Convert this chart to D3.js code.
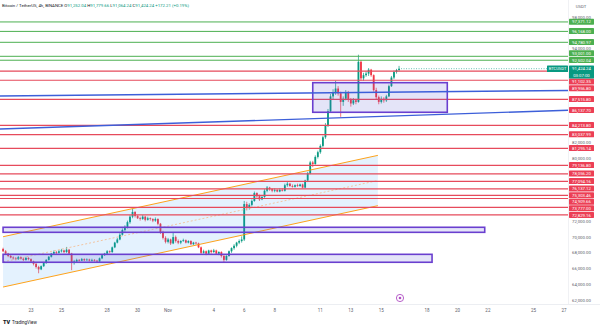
<!DOCTYPE html>
<html><head><meta charset="utf-8">
<script src="https://cdn.jsdelivr.net/npm/d3@7"></script>
<style>body{margin:0;background:#fff}svg{display:block}text{font-family:Roboto,"Noto Sans",sans-serif}</style>
</head><body><svg id="c" width="600" height="328"></svg>
<script>
// ---------- DATA ----------
const startTime = "2024-10-21T04:00";   // first 4h candle
const opens = [
68500,68200,67900,67600,67400,
67300,67200,67450,67250,67100,67350,
67200,66900,66600,66200,65900,66300,
66700,67100,67500,67900,68100,68000,
68200,68300,68100,68400,67900,66700,
66900,67100,67000,67200,67050,67150,
67000,67100,67000,66900,67300,67700,
67900,68200,68100,68700,69300,69700,
70300,70900,71300,71900,72600,73200,
72700,72400,72300,72600,72200,72400,
72300,72100,72300,71700,70600,69900,
69400,69700,69200,70000,69500,69300,
69500,69600,69300,69500,69100,69300,
69200,68700,68000,68200,67900,68300,
68100,68300,67900,68100,67600,67100,
67600,68200,68600,68900,69300,69500,
69700,74200,73700,74100,74600,75600,
75200,74800,75100,75900,76300,76100,
75900,76000,75800,76000,75900,76600,
76800,76500,76400,76600,76500,76700,
76300,77200,78100,79500,79300,80200,
80800,81600,82700,84200,86000,87900,
88400,88900,88300,87200,87600,88400,
87500,87000,87400,87200,92300,90200,
90600,90800,91300,90600,88700,87800,
87200,87600,87400,87900,89200,90300,
91000,91252.04];
const highs = [
68650,68350,68000,67750,67550,
67450,67600,67550,67350,67500,67450,
67300,67000,66700,66350,66400,66800,
67200,67600,68000,68300,68250,68350,
68500,68400,68750,68500,68000,67100,
67250,67200,67350,67300,67300,67250,
67250,67200,67100,67400,67800,68000,
68350,68300,68800,69400,69900,70500,
71100,71500,72100,72800,73600,73300,
72800,72600,72800,72700,72600,72500,
72400,72500,72400,71800,70800,70100,
69900,69800,70600,70200,69700,69600,
69800,69700,69600,69600,69400,69400,
69300,68800,68400,68300,68400,68400,
68500,68400,68200,68200,67700,67700,
68300,68700,69100,69400,69700,70100,
74600,74500,74300,74800,75800,75700,
75400,75300,76100,76500,76400,76200,
76200,76100,76200,76200,76800,77000,
76900,76700,76700,76800,76800,76800,
77300,78300,79700,79700,80400,81000,
81800,82900,84500,86300,88200,88800,
89900,89200,88500,87900,88700,88600,
87700,87700,87600,93200,92500,90900,
91100,91500,91400,90700,89000,88000,
87900,87800,88100,89400,90500,91200,
91400,91779.66];
const lows = [
68100,67800,67450,67300,67150,
67050,67100,67150,66950,67000,67050,
66800,66400,66000,65400,65800,66200,
66600,67000,67400,67800,67850,67900,
68050,67950,68000,67750,65800,66500,
66800,66900,66950,66950,67000,66900,
66900,66900,66750,66850,67200,67600,
67800,67950,68000,68600,69200,69600,
70200,70700,71100,71700,72400,72500,
72300,72100,72200,72000,72100,72100,
71900,71950,71500,70400,69700,69200,
69200,69000,69100,69300,69100,69100,
69400,69200,69200,69000,69000,69050,
68600,67800,67900,67700,67800,67900,
68000,67800,67700,67400,66800,67000,
67500,68000,68400,68700,69100,69300,
69500,73400,73500,73900,74500,75000,
74600,74700,75000,75700,75900,75700,
75700,75700,75700,75800,75800,76400,
76400,76300,76300,76400,76400,76200,
76200,77000,78000,78900,79200,80000,
80600,81400,82500,84000,85800,87500,
88100,88000,85300,86700,87400,87200,
86600,86800,86900,87100,89900,89900,
90400,90500,90400,88500,87500,86900,
87000,87100,87200,87800,89100,90100,
90800,91064.24];
const closes = [
68200,67900,67600,67400,67300,
67200,67450,67250,67100,67350,67200,
66900,66600,66200,65900,66300,66700,
67100,67500,67900,68100,68000,68200,
68300,68100,68400,67900,66700,66900,
67100,67000,67200,67050,67150,67000,
67100,67000,66900,67300,67700,67900,
68200,68100,68700,69300,69700,70300,
70900,71300,71900,72600,73200,72700,
72400,72300,72600,72200,72400,72300,
72100,72300,71700,70600,69900,69400,
69700,69200,70000,69500,69300,69500,
69600,69300,69500,69100,69300,69200,
68700,68000,68200,67900,68300,68100,
68300,67900,68100,67600,67100,67600,
68200,68600,68900,69300,69500,69700,
74200,73700,74100,74600,75600,75200,
74800,75100,75900,76300,76100,75900,
76000,75800,76000,75900,76600,76800,
76500,76400,76600,76500,76700,76300,
77200,78100,79500,79300,80200,80800,
81600,82700,84200,86000,87900,88400,
88900,88300,87200,87600,88400,87500,
87000,87400,87200,92300,90200,90600,
90800,91300,90600,88700,87800,87200,
87600,87400,87900,89200,90300,91000,
91252.04,91424.24];

const greenLevels = [97371.12, 96168.00, 94780.97, 93001.00, 92502.04];
const redLevels = [91102.35, 89956.80, 87515.80, 84213.80, 83037.99, 81295.14, 79136.80,
                   78056.20, 77094.16, 76137.12, 75303.46, 74909.66, 73777.00, 72829.16];
// trend lines (time, price anchors)
const blueLineA = ["2024-10-21T00:00", 87950, "2024-11-27T00:00", 88650];
const blueLineB = ["2024-10-21T00:00", 83750, "2024-11-27T04:00", 86137.70];
// rectangles: [start, end, top price, bottom price]
const boxes = [
  ["2024-11-10T12:00", "2024-11-19T08:00", 89646, 85880],
  ["2024-10-21T04:00", "2024-11-21T19:00", 71250, 70610],
  ["2024-10-21T04:00", "2024-11-18T08:00", 67810, 66800]
];
// parallel channel: start, end, upper prices, lower prices
const channelTimes = ["2024-10-21T04:00", "2024-11-14T18:40"];
const channelUpper = [70050, 80400];
const channelLower = [63650, 74000];

const priceTicks = [62000,64000,66000,68000,70000,72000,74000,76000,78000,80000,82000,84000,86000,88000,90000,92000,94000,96000,98000];
const timeTickDates = ["2024-10-23","2024-10-25","2024-10-28","2024-10-30","2024-11-01","2024-11-04","2024-11-06","2024-11-08","2024-11-11","2024-11-13","2024-11-15","2024-11-18","2024-11-20","2024-11-22","2024-11-25","2024-11-27"];
const timeTickLabels = ["23","25","28","30","Nov","4","6","8","11","13","15","18","20","22","25","27"];
const symbolName = "BTCUSDT";
const countdown = "03:07:00";
const headerTitle = "Bitcoin / TetherUS, 4h, BINANCE";
const headerChange = "+172.21 (+0.19%)";

// ---------- CHART ----------
const W = 600, H = 328, plotR = 568, plotB = 304;
const svg = d3.select("#c");
const pt = d3.utcParse("%Y-%m-%dT%H:%M");
const pd = d3.utcParse("%Y-%m-%d");
const x = d3.scaleUtc().domain([Date.UTC(2024,9,21), Date.UTC(2024,10,27)]).range([0.54, 564.05]);
const y = d3.scaleLinear().domain([62000, 98000]).range([300, 17]);
const fmt = d3.format(",.2f");
const GREEN = "#089981", RED = "#f23645";

svg.append("rect").attr("width",W).attr("height",H).attr("fill","#fff");
svg.append("defs").append("clipPath").attr("id","clip").append("rect")
  .attr("x",0).attr("y",0).attr("width",plotR).attr("height",plotB);
const plot = svg.append("g").attr("clip-path","url(#clip)");

// candles
const t0 = pt(startTime).getTime();
const candles = closes.map((c,i)=>({t:new Date(t0 + i*4*3600e3), o:opens[i], h:highs[i], l:lows[i], c}));
const cg = plot.append("g");
candles.forEach(d=>{
  const col = d.c >= d.o ? GREEN : RED;
  const cx = x(d.t);
  cg.append("line").attr("x1",cx).attr("x2",cx).attr("y1",y(d.h)).attr("y2",y(d.l)).attr("stroke",col).attr("stroke-width",0.7);
  const top = y(Math.max(d.o,d.c)), bot = y(Math.min(d.o,d.c));
  cg.append("rect").attr("x",cx-0.9).attr("width",1.8).attr("y",top).attr("height",Math.max(0.7,bot-top)).attr("fill",col);
});

// channel
const cx0 = x(pt(channelTimes[0])), cx1 = x(pt(channelTimes[1]));
plot.append("path")
  .attr("d", `M${cx0},${y(channelUpper[0])}L${cx1},${y(channelUpper[1])}L${cx1},${y(channelLower[1])}L${cx0},${y(channelLower[0])}Z`)
  .attr("fill","rgba(33,150,243,0.12)");
[channelUpper, channelLower].forEach(p=>{
  plot.append("line").attr("x1",cx0).attr("y1",y(p[0])).attr("x2",cx1).attr("y2",y(p[1]))
    .attr("stroke","#ff9800").attr("stroke-width",0.9);
});
plot.append("line").attr("x1",cx0).attr("y1",y((channelUpper[0]+channelLower[0])/2))
  .attr("x2",cx1).attr("y2",y((channelUpper[1]+channelLower[1])/2))
  .attr("stroke","#f5b98a").attr("stroke-width",0.8).attr("stroke-dasharray","2,2");

// horizontal levels
greenLevels.forEach(v=>plot.append("line").attr("x1",0).attr("x2",plotR).attr("y1",y(v)).attr("y2",y(v)).attr("stroke","#4caf50").attr("stroke-width",1));
redLevels.forEach(v=>plot.append("line").attr("x1",0).attr("x2",plotR).attr("y1",y(v)).attr("y2",y(v)).attr("stroke","#e64a5b").attr("stroke-width",1.2));

// boxes
boxes.forEach(b=>{
  const xa = x(pt(b[0])), xb = x(pt(b[1]));
  plot.append("rect").attr("x",xa).attr("y",y(b[2])).attr("width",xb-xa).attr("height",y(b[3])-y(b[2]))
    .attr("fill","rgba(92,92,214,0.17)").attr("stroke","#6a3fcf").attr("stroke-width",1.6);
});

// blue trend lines extended across pane
[blueLineA, blueLineB].forEach(L=>{
  const xa = x(pt(L[0])), ya = y(L[1]), xb = x(pt(L[2])), yb = y(L[3]);
  const s = (yb-ya)/(xb-xa);
  plot.append("line").attr("x1",0).attr("y1",ya + (0-xa)*s).attr("x2",plotR).attr("y2",ya+(plotR-xa)*s)
    .attr("stroke","#3d5fd9").attr("stroke-width",1.4);
});

// current price dotted line
const last = candles[candles.length-1];
plot.append("line").attr("x1",x(last.t)+2).attr("x2",plotR).attr("y1",y(last.c)).attr("y2",y(last.c))
  .attr("stroke",GREEN).attr("stroke-width",0.6).attr("stroke-dasharray","1,1.5");

// frame separators
svg.append("line").attr("x1",0).attr("x2",W).attr("y1",plotB+0.5).attr("y2",plotB+0.5).attr("stroke","#eceef2");
svg.append("line").attr("x1",plotR+0.5).attr("x2",plotR+0.5).attr("y1",0).attr("y2",plotB).attr("stroke","#f0f1f4");

// ----- price scale tags with collision handling -----
const TH = 6.6;
const curY = y(last.c);
const blockTop = curY - TH/2, blockBot = curY + TH*1.5;
let tags = greenLevels.map(v=>({v,col:"#4caf50"}))
  .concat(redLevels.map(v=>({v,col:"#ec3f55"})))
  .concat([{v:blueLineB[3], col:"#ec3f55"}]);
tags.forEach(t=>t.y = y(t.v));
const above = tags.filter(t=>t.y < curY).sort((a,b)=>b.y-a.y);
const below = tags.filter(t=>t.y >= curY).sort((a,b)=>a.y-b.y);
let lim = blockTop - TH/2;
above.forEach(t=>{ if (t.y > lim) t.y = lim; lim = t.y - TH; });
lim = blockBot + TH/2;
below.forEach(t=>{ if (t.y < lim) t.y = lim; lim = t.y + TH; });

// price axis labels
const ax = svg.append("g");
priceTicks.forEach(v=>{
  const ty = y(v);
  if (ty > blockTop-2 && ty < blockBot+2) return;
  if (tags.some(t=>Math.abs(t.y-ty) < 4)) return;
  ax.append("text").attr("x",572).attr("y",ty+1.5).attr("font-size",4.3).attr("fill","#5d606b").text(fmt(v));
});
ax.append("text").attr("x",581).attr("y",7.5).attr("font-size",4.3).attr("fill","#5d606b").attr("text-anchor","middle").text("USDT");

const tg = svg.append("g");
tags.forEach(t=>{
  tg.append("rect").attr("x",569).attr("y",t.y-TH/2).attr("width",25).attr("height",TH-0.6).attr("rx",0.6).attr("fill",t.col);
  tg.append("text").attr("x",581.5).attr("y",t.y+1.4).attr("font-size",4.3).attr("fill","#fff").attr("text-anchor","middle").text(fmt(t.v));
});
// current price tag
tg.append("rect").attr("x",569).attr("y",blockTop).attr("width",25).attr("height",TH*2).attr("rx",0.6).attr("fill",GREEN);
tg.append("text").attr("x",581.5).attr("y",curY+1.4).attr("font-size",4.3).attr("fill","#fff").attr("text-anchor","middle").text(fmt(last.c));
tg.append("text").attr("x",581.5).attr("y",curY+TH+1.4).attr("font-size",4.3).attr("fill","#fff").attr("text-anchor","middle").text(countdown);
tg.append("rect").attr("x",547).attr("y",blockTop).attr("width",21).attr("height",TH).attr("rx",0.6).attr("fill",GREEN);
tg.append("text").attr("x",557.5).attr("y",curY+1.4).attr("font-size",4.1).attr("fill","#fff").attr("text-anchor","middle").text(symbolName);

// time axis
timeTickDates.forEach((d,i)=>{
  svg.append("text").attr("x",x(pd(d))).attr("y",311.5).attr("font-size",4.5).attr("fill","#5d606b")
    .attr("text-anchor","middle").text(timeTickLabels[i]);
});

// header
const hdr = svg.append("text").attr("x",2).attr("y",7).attr("font-size",4.3).attr("fill","#131722");
hdr.append("tspan").text(headerTitle + "  ");
[["O",last.o],["H",last.h],["L",last.l],["C",last.c]].forEach(p=>{
  hdr.append("tspan").attr("fill","#131722").text(p[0]);
  hdr.append("tspan").attr("fill",GREEN).text(fmt(p[1]) + " ");
});
hdr.append("tspan").attr("fill",GREEN).text(headerChange);

// idea marker icon
const ic = svg.append("g").attr("transform","translate(400,298)");
ic.append("circle").attr("r",3.6).attr("fill","#fff").attr("stroke","#b04fc4").attr("stroke-width",0.9);
ic.append("circle").attr("r",1.3).attr("fill","#b04fc4");

// TradingView logo
svg.append("text").attr("x",3).attr("y",324).attr("font-size",5.5).attr("font-weight",900).attr("fill","#131722").text("TV");
svg.append("text").attr("x",12).attr("y",323.8).attr("font-size",4.5).attr("fill","#131722").text("TradingView");
</script></body></html>
